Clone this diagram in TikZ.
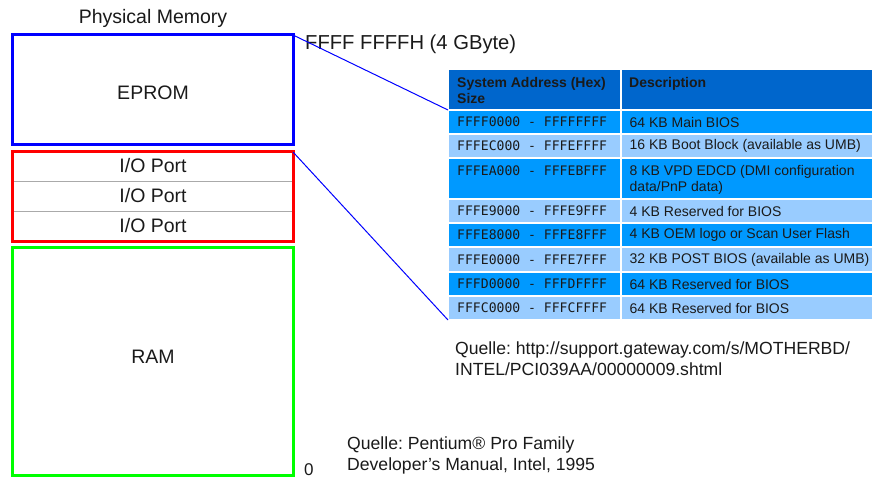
\documentclass[tikz,border=0pt]{standalone}
\usepackage{fontspec}
\setmainfont{Liberation Sans}
\newfontfamily\addrfont{DejaVu Sans Mono}
\definecolor{hdr}{HTML}{0066CC}
\definecolor{mid}{HTML}{0099FF}
\definecolor{light}{HTML}{99CCFF}
\definecolor{txt}{HTML}{1A1A1A}
\definecolor{sep}{HTML}{AAAAAA}
\frenchspacing
\begin{document}
\begin{tikzpicture}[x=1pt,y=-1pt,
  big/.style={font=\fontsize{19.5}{23}\selectfont, text=txt, inner sep=0},
  src/.style={font=\fontsize{17.6}{20.5}\selectfont, text=txt, inner sep=0, align=left, anchor=north west},
  membox/.style={line width=3pt, minimum width=281pt, inner sep=0, outer sep=0},
  cell/.style={draw=white, line width=1.5pt, inner sep=0, outer sep=0, anchor=north west},
  acell/.style={cell, minimum width=173pt},
  dcell/.style={cell, minimum width=252pt},
  ttext/.style={anchor=west, inner sep=0, align=left, text=txt, font=\fontsize{14}{15.5}\selectfont},
  htext/.style={anchor=north west, inner sep=0, align=left, text=txt, font=\bfseries\fontsize{14}{15.5}\selectfont},
  atext/.style={anchor=west, inner sep=0, text=txt, font=\addrfont\fontsize{13.1}{15.5}\selectfont},
  link/.style={blue, line width=1pt}
]
\useasboundingbox (0,0) rectangle (874,478);

% memory map
\node[big] (title) at (153,18) {Physical Memory};
\node[membox, draw=blue, minimum height=110pt] (eprom) at (152.5,90) {};
\node[big] (epromlbl) at (153,93) {EPROM};
\node[draw=sep, line width=1pt, minimum width=281pt, minimum height=30pt, inner sep=0] (io1) at (152.5,166.5) {};
\node[draw=sep, line width=1pt, minimum width=281pt, minimum height=30pt, inner sep=0] (io2) at (152.5,196.5) {};
\node[draw=sep, line width=1pt, minimum width=281pt, minimum height=30pt, inner sep=0] (io3) at (152.5,226.5) {};
\node[big] (iolbl1) at (153,166) {I/O Port};
\node[big] (iolbl2) at (153,196) {I/O Port};
\node[big] (iolbl3) at (153,226) {I/O Port};
\node[membox, draw=red, minimum height=89pt] (io) at (152.5,196.5) {};
\node[membox, draw=green, minimum height=228pt] (ram) at (152.5,361) {};
\node[big] (ramlbl) at (153,357) {RAM};
\node[big, anchor=west, font=\fontsize{20.2}{23}\selectfont] (top) at (305,44) {FFFF FFFFH (4 GByte)};
\node[src, anchor=west, font=\fontsize{17}{20}\selectfont] (zero) at (304,469.5) {0};

% table cells
\node[acell, fill=hdr, minimum height=41pt] (h1) at (448,69) {};
\node[dcell, fill=hdr, minimum height=41pt] (h2) at (621,69) {};
\node[acell, fill=mid, minimum height=24pt] (a1) at (448,110) {};
\node[dcell, fill=mid, minimum height=24pt] (d1) at (621,110) {};
\node[acell, fill=light, minimum height=24pt] (a2) at (448,134) {};
\node[dcell, fill=light, minimum height=24pt] (d2) at (621,134) {};
\node[acell, fill=mid, minimum height=41pt] (a3) at (448,158) {};
\node[dcell, fill=mid, minimum height=41pt] (d3) at (621,158) {};
\node[acell, fill=light, minimum height=24pt] (a4) at (448,199) {};
\node[dcell, fill=light, minimum height=24pt] (d4) at (621,199) {};
\node[acell, fill=mid, minimum height=24pt] (a5) at (448,223) {};
\node[dcell, fill=mid, minimum height=24pt] (d5) at (621,223) {};
\node[acell, fill=light, minimum height=25pt] (a6) at (448,247) {};
\node[dcell, fill=light, minimum height=25pt] (d6) at (621,247) {};
\node[acell, fill=mid, minimum height=24pt] (a7) at (448,272) {};
\node[dcell, fill=mid, minimum height=24pt] (d7) at (621,272) {};
\node[acell, fill=light, minimum height=24pt] (a8) at (448,296) {};
\node[dcell, fill=light, minimum height=24pt] (d8) at (621,296) {};

% table texts
\node[htext] (th1) at (457,77.5) {System Address (Hex)\\Size};
\node[htext] (th2) at (629,77.5) {Description};
\node[atext] (ta1) at (457,122) {FFFF0000 - FFFFFFFF};
\node[ttext] (td1) at (629.5,122) {64 KB Main BIOS};
\node[atext] (ta2) at (457,146) {FFFEC000 - FFFEFFFF};
\node[ttext] (td2) at (629.5,146) {16 KB Boot Block (available as UMB)};
\node[atext] (ta3) at (457,171) {FFFEA000 - FFFEBFFF};
\node[ttext, anchor=north west] (td3) at (629.5,165.5) {8 KB VPD EDCD (DMI configuration\\data/PnP data)};
\node[atext] (ta4) at (457,211) {FFFE9000 - FFFE9FFF};
\node[ttext] (td4) at (629.5,211) {4 KB Reserved for BIOS};
\node[atext] (ta5) at (457,235) {FFFE8000 - FFFE8FFF};
\node[ttext] (td5) at (629.5,235) {4 KB OEM logo or Scan User Flash};
\node[atext] (ta6) at (457,259.5) {FFFE0000 - FFFE7FFF};
\node[ttext] (td6) at (629.5,259.5) {32 KB POST BIOS (available as UMB)};
\node[atext] (ta7) at (457,284) {FFFD0000 - FFFDFFFF};
\node[ttext] (td7) at (629.5,284) {64 KB Reserved for BIOS};
\node[atext] (ta8) at (457,308) {FFFC0000 - FFFCFFFF};
\node[ttext] (td8) at (629.5,308) {64 KB Reserved for BIOS};

% connectors
\draw[link] (eprom.north east) -- (a1.north west);
\draw[link] (io.north east) -- (a8.south west);

% sources
\node[src] (src1) at (455,342) {Quelle: http://support.gateway.com/s/MOTHERBD/\\INTEL/PCI039AA/00000009.shtml};
\node[src] (src2) at (347,437) {Quelle: Pentium® Pro Family\\Developer’s Manual, Intel, 1995};
\end{tikzpicture}
\end{document}
